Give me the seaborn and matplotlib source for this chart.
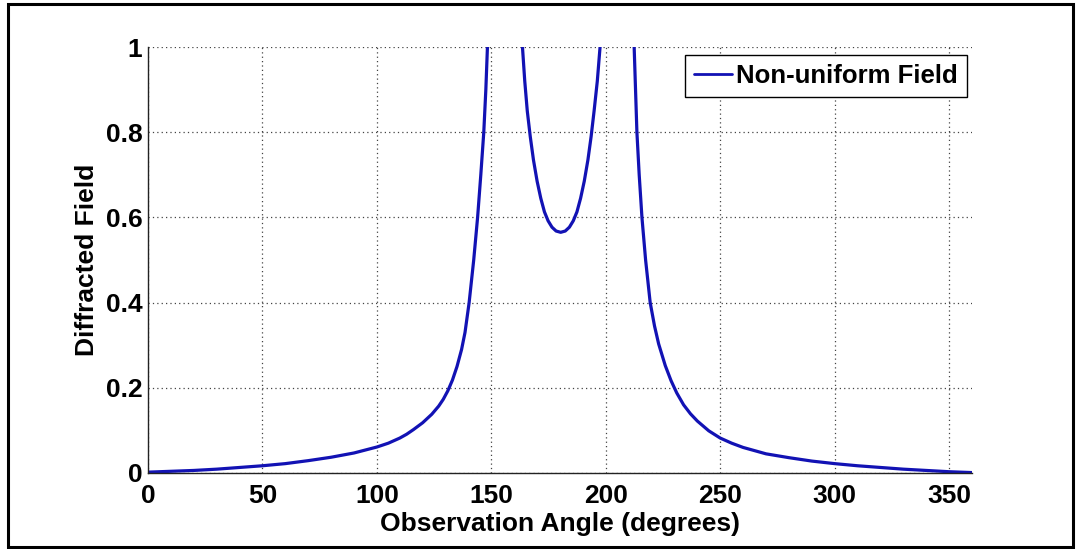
import numpy as np
import pandas as pd
import matplotlib
matplotlib.use("Agg")
import matplotlib.pyplot as plt
import seaborn as sns
from matplotlib.patches import Rectangle
from matplotlib.ticker import FuncFormatter

# ---- data ----
left_angle = [0, 10, 20, 30, 40, 50, 60, 70, 80, 90, 100, 105, 110, 113, 116, 120,
              124, 127, 129, 131, 133, 135, 137, 138.5, 140.3, 142.3, 144.0, 145.4,
              146.7, 147.6, 148.3]
left_value = [0.002, 0.004, 0.006, 0.009, 0.013, 0.017, 0.022, 0.029, 0.037, 0.047,
              0.061, 0.070, 0.082, 0.091, 0.102, 0.118, 0.138, 0.157, 0.173, 0.193,
              0.218, 0.250, 0.290, 0.330, 0.400, 0.500, 0.600, 0.700, 0.800, 0.900,
              1.000]

mid_angle = [163.6, 164.6, 165.7, 167.0, 168.4, 170.0, 171.6, 173.2, 174.8, 176.5,
             178.3, 180.3, 182.3, 184.1, 185.8, 187.4, 189.0, 190.6, 192.2, 193.6,
             194.9, 196.3, 197.5]
mid_value = [1.000, 0.920, 0.850, 0.790, 0.735, 0.685, 0.645, 0.613, 0.592, 0.577,
             0.568, 0.565, 0.568, 0.577, 0.592, 0.613, 0.645, 0.685, 0.735, 0.790,
             0.850, 0.920, 1.000]

right_angle = [212.4, 213.0, 213.6, 214.6, 215.8, 217.4, 219.4, 221.3, 223.1, 226.0,
               228.5, 231.0, 234.0, 237.0, 240.0, 245.0, 250.0, 255.0, 260.0, 270.0,
               280.0, 290.0, 300.0, 310.0, 320.0, 330.0, 340.0, 350.0, 360.0]
right_value = [1.000, 0.900, 0.800, 0.700, 0.600, 0.500, 0.400, 0.345, 0.303, 0.252,
               0.217, 0.188, 0.160, 0.139, 0.122, 0.099, 0.082, 0.070, 0.060, 0.045,
               0.036, 0.028, 0.022, 0.017, 0.013, 0.009, 0.006, 0.003, 0.001]

legend_label = "Non-uniform Field"
x_label = "Observation Angle (degrees)"
y_label = "Diffracted Field"
x_ticks = [0, 50, 100, 150, 200, 250, 300, 350]
y_ticks = [0, 0.2, 0.4, 0.6, 0.8, 1.0]

# ---- style ----
sns.set_style("white")
plt.rcParams["font.family"] = ["Liberation Sans Narrow", "Liberation Sans", "DejaVu Sans"]
plt.rcParams["font.weight"] = "bold"
plt.rcParams["text.color"] = "black"
plt.rcParams["axes.labelcolor"] = "black"

fig = plt.figure(figsize=(10.83, 5.49), dpi=100)
ax = fig.add_axes([148 / 1083, 1 - 473 / 549, (972 - 148) / 1083, (473 - 47) / 549])

line_color = "#1212b4"
segments = [(left_angle, left_value), (mid_angle, mid_value), (right_angle, right_value)]
for i, (a, v) in enumerate(segments):
    df = pd.DataFrame({"angle": a, "value": v})
    sns.lineplot(data=df, x="angle", y="value", ax=ax, color=line_color, lw=2.3,
                 legend=False, sort=True)

ax.set_xlim(0, 360)
ax.set_ylim(0, 1)
ax.set_xticks(x_ticks)
ax.set_yticks(y_ticks)
ax.yaxis.set_major_formatter(FuncFormatter(lambda v, p: f"{v:g}"))

ax.grid(True, linestyle=(0, (1, 2.5)), color="#444444", lw=0.9)
for side in ["top", "right"]:
    ax.spines[side].set_visible(False)
for side in ["left", "bottom"]:
    ax.spines[side].set_color("#222222")
    ax.spines[side].set_linewidth(1.0)

ax.tick_params(axis="both", direction="in", length=7, width=1.0, color="#222222",
               labelsize=19, labelcolor="black")
ax.tick_params(axis="x", pad=8)
ax.tick_params(axis="y", pad=4)
for lab in ax.get_xticklabels() + ax.get_yticklabels():
    lab.set_fontweight("bold")

ax.set_xlabel(x_label, fontsize=19, fontweight="bold", labelpad=3, color="black")
ax.set_ylabel(y_label, fontsize=19, fontweight="bold", labelpad=5, color="black")

h = [plt.Line2D([], [], color=line_color, lw=2.0)]
leg = ax.legend(h, [legend_label], loc="upper right", bbox_to_anchor=(1.0 - 5 / 824, 1 - 8 / 426),
                borderaxespad=0, fancybox=False, framealpha=1, edgecolor="black",
                prop={"size": 18.5, "weight": "bold"}, handlelength=1.5, handletextpad=0.15,
                borderpad=0.35)
leg.get_frame().set_linewidth(1.0)

fig.patches.append(Rectangle((8 / 1083, 2 / 549), (1073 - 8) / 1083, (545 - 2) / 549,
                             transform=fig.transFigure, fill=False, edgecolor="black",
                             lw=2.2, zorder=10))

fig.savefig("out.png", dpi=100, facecolor="white")
